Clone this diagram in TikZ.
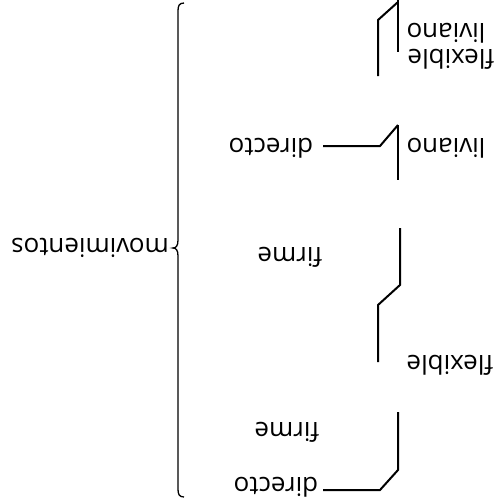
\documentclass[tikz,border=0pt]{standalone}
\usepackage{fontspec}
\setmainfont{Open Sans}
\begin{document}
\begin{tikzpicture}[x=1pt,y=-1pt,
  lbl/.style={rotate=180,inner sep=0pt,font=\fontsize{26}{28}\selectfont},
  bar/.style={line width=2pt,line join=miter},
  brace/.style={line width=1.3pt}]
\useasboundingbox (0,0) rectangle (497,504);

% labels (set upside down)
\node[lbl] (mov) at (90,248) {movimientos};
\node[lbl] (liv1) at (446,33) {liviano};
\node[lbl] (flx1) at (451,59) {flexible};
\node[lbl] (liv2) at (446,148) {liviano};
\node[lbl] (dir2) at (271,148) {directo};
\node[lbl] (fir3) at (290,257) {firme};
\node[lbl] (flx3) at (450,365) {flexible};
\node[lbl] (fir4) at (287,432) {firme};
\node[lbl] (dir4) at (276,487) {directo};

% main brace
\coordinate (bt) at (184,3);
\coordinate (bm) at (173,248);
\coordinate (bb) at (184,497);
\draw[brace] (bt) .. controls (179,3) and (178,6) .. (178,11)
  -- (178,240) .. controls (178,246) and (176,248) .. (bm)
  .. controls (176,248) and (178,250) .. (178,256)
  -- (178,489) .. controls (178,494) and (179,497) .. (bb);

% top group: flexible / liviano
\coordinate (a1) at (398,0);
\coordinate (a2) at (398,52);
\coordinate (a3) at (378,20);
\coordinate (a4) at (378,76);
\draw[bar] (a1) -- (a2);
\draw[bar] (398,2) -- (a3) -- (a4);

% liviano -- directo
\coordinate (b1) at (398,125);
\coordinate (b2) at (398,180);
\coordinate (b3) at (380,146);
\coordinate (b4) at (323,146);
\draw[bar] (b1) -- (b2);
\draw[bar] (b1) -- (b3) -- (b4);

% firme / flexible
\coordinate (c1) at (400,228);
\coordinate (c2) at (400,285);
\coordinate (c3) at (378,305);
\coordinate (c4) at (378,362);
\draw[bar] (c1) -- (c2) -- (c3) -- (c4);

% firme / directo
\coordinate (d1) at (398,412);
\coordinate (d2) at (398,470);
\coordinate (d3) at (380,490);
\coordinate (d4) at (323,490);
\draw[bar] (d1) -- (d2) -- (d3) -- (d4);
\end{tikzpicture}
\end{document}
